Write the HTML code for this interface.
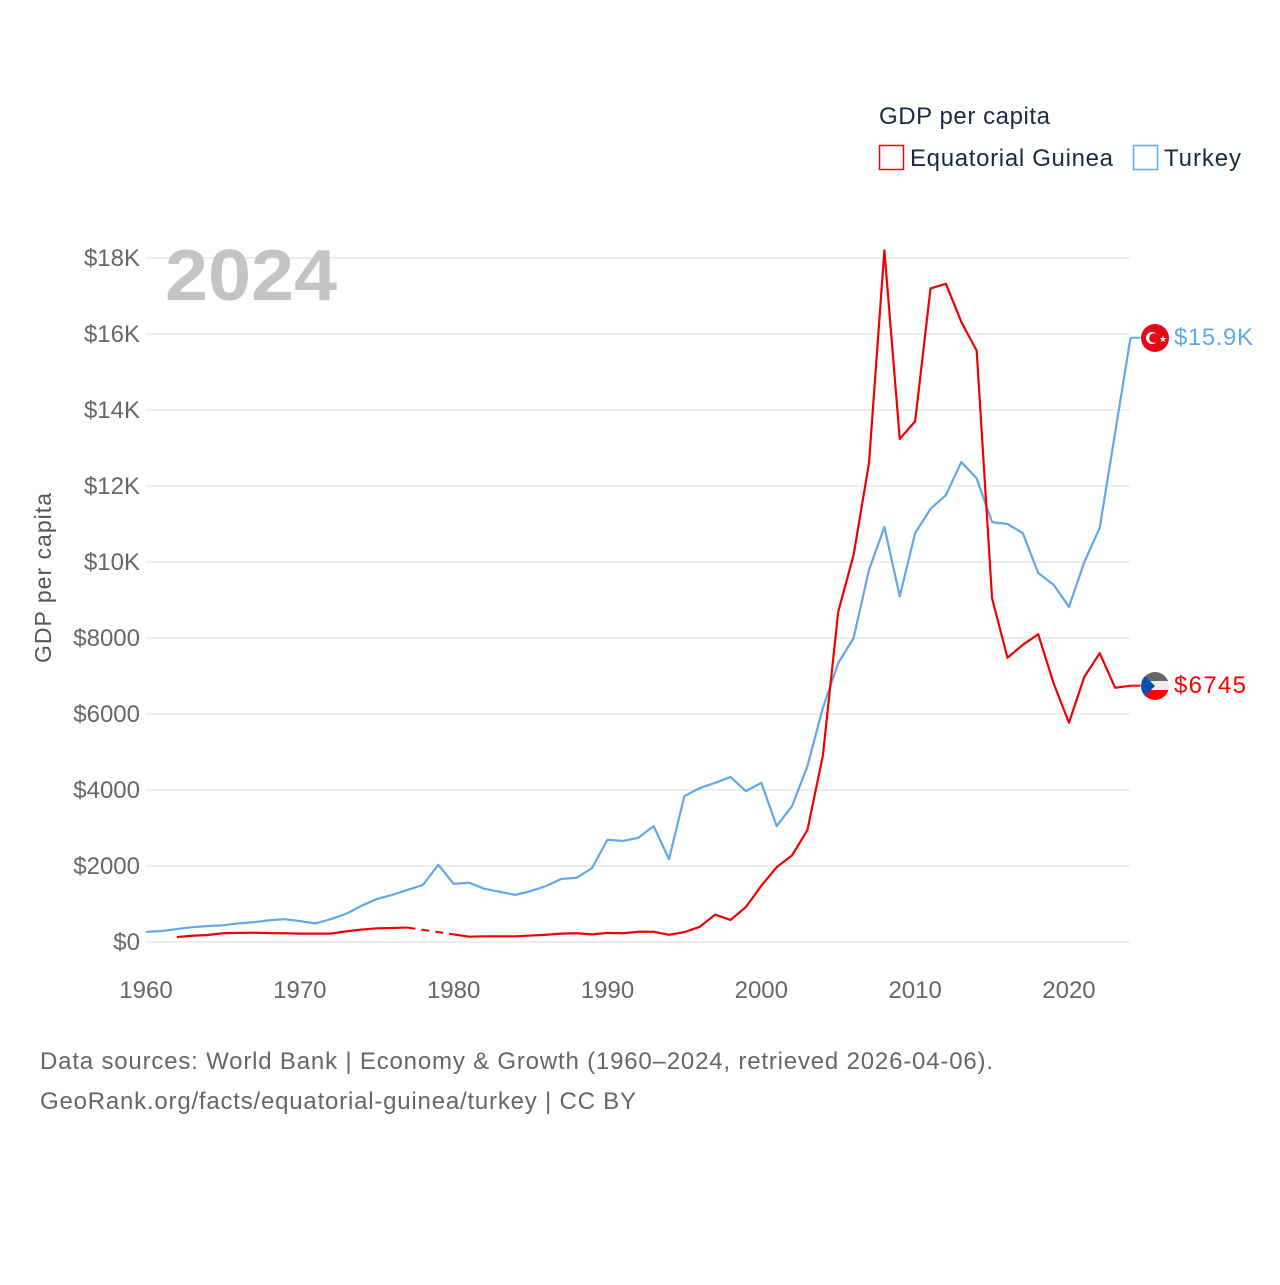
<!DOCTYPE html>
<html><head><meta charset="utf-8"><style>
body{margin:0;background:#fff;width:1280px;height:1280px;overflow:hidden;font-family:"Liberation Sans",sans-serif}
</style></head><body>
<svg width="1280" height="1280" xmlns="http://www.w3.org/2000/svg" style="font-family:'Liberation Sans',sans-serif">
<g id="grid"></g>
<g id="yticks"></g>
<g id="xticks"></g>
<text x="165" y="300" font-size="72" font-weight="bold" fill="#c4c4c4" textLength="172" lengthAdjust="spacingAndGlyphs">2024</text>
<text transform="translate(51,578) rotate(-90)" text-anchor="middle" font-size="23" fill="#555" textLength="170">GDP per capita</text>
<g id="series"></g>
<g>
<text x="879" y="124" font-size="24" fill="#1a2a44" textLength="171">GDP per capita</text>
<g><rect x="879.5" y="145.5" width="24" height="24" fill="none" stroke="#f00" stroke-width="1.5"/><text x="910" y="166" font-size="24" fill="#1a2a44" textLength="203">Equatorial Guinea</text></g>
<g><rect x="1133.5" y="145.5" width="24" height="24" fill="none" stroke="#5fa8ec" stroke-width="1.5"/><text x="1164" y="166" font-size="24" fill="#1a2a44" textLength="77">Turkey</text></g>
</g>
<g><circle cx="1155" cy="338" r="14" fill="#e30a17"/><circle cx="1152" cy="338" r="6" fill="#fff"/><circle cx="1154" cy="338" r="4.8" fill="#e30a17"/><text x="1159" y="342" font-size="9" fill="#fff">★</text></g>
<text x="1174" y="345" font-size="24" fill="#5fa8ec" textLength="79">$15.9K</text>
<g>
<clipPath id="cf"><circle cx="1155" cy="686" r="14"/></clipPath>
<g clip-path="url(#cf)"><rect x="1141" y="672" width="28" height="10" fill="#666"/><rect x="1141" y="681" width="28" height="10" fill="#eee"/><rect x="1141" y="690" width="28" height="10" fill="#f00"/><polygon points="1141,672 1155,686 1141,700" fill="#0c4fb0"/></g></g>
<text x="1174" y="693" font-size="24" fill="#f00" textLength="72">$6745</text>
<text x="40" y="1069" font-size="24" fill="#666" textLength="953">Data sources: World Bank | Economy &amp; Growth (1960–2024, retrieved 2026-04-06).</text>
<text x="40" y="1109" font-size="24" fill="#666" textLength="596">GeoRank.org/facts/equatorial-guinea/turkey | CC BY</text>
</svg>
<script>
const years=[];for(let y=1960;y<=2024;y++)years.push(y);
const yTicks=[0,2000,4000,6000,8000,10000,12000,14000,16000,18000];
const yTickLabels=["$0","$2000","$4000","$6000","$8000","$10K","$12K","$14K","$16K","$18K"];
const xTicks=[1960,1970,1980,1990,2000,2010,2020];
const turkey=[265,290,340,390,420,440,490,520,570,600,550,490,600,740,950,1130,1240,1370,1500,2030,1530,1560,1400,1320,1240,1340,1470,1660,1690,1950,2690,2660,2740,3050,2180,3840,4050,4190,4340,3970,4190,3050,3580,4630,6160,7340,8000,9790,10920,9100,10760,11400,11760,12630,12200,11050,11000,10760,9710,9400,8820,10000,10900,13400,15900];
const eqGuinea=[null,null,130,165,185,230,240,245,233,230,220,220,220,280,325,360,370,380,null,null,200,140,150,150,150,170,190,220,230,200,240,230,270,270,190,260,400,720,580,920,1480,1970,2280,2950,4900,8690,10190,12600,18200,13240,13700,17200,17320,16320,15560,9050,7480,7820,8100,6810,5770,6980,7600,6690,6745];
const NS="http://www.w3.org/2000/svg";
const X=y=>146+(y-1960)*(1130.5-146)/64;
const Y=v=>942-v*(942-258)/18000;
const grid=document.getElementById('grid'),yt=document.getElementById('yticks'),xt=document.getElementById('xticks'),ser=document.getElementById('series');
yTicks.forEach((v,i)=>{
 const l=document.createElementNS(NS,'line');
 
 
 l.setAttribute('x1',146);l.setAttribute('x2',1130);l.setAttribute('y1',Y(v));l.setAttribute('y2',Y(v));
 l.setAttribute('stroke','#e8e8e8');l.setAttribute('stroke-width','1.5');grid.appendChild(l);
 const t=document.createElementNS(NS,'text');
 
 
 t.setAttribute('x',140);t.setAttribute('y',Y(v)+8);t.setAttribute('text-anchor','end');t.setAttribute('font-size','24');t.setAttribute('fill','#666');
 t.textContent=yTickLabels[i];yt.appendChild(t);
});
xTicks.forEach(v=>{
 const t=document.createElementNS(NS,'text');
 
 
 t.setAttribute('x',X(v));t.setAttribute('y',998);t.setAttribute('text-anchor','middle');t.setAttribute('font-size','24');t.setAttribute('fill','#666');
 t.textContent=v;xt.appendChild(t);
});
function draw(vals,color,name){
 let segs=[],cur=[],prev=null;
 vals.forEach((v,i)=>{
  if(v==null){if(cur.length){segs.push(cur);prev=cur[cur.length-1];cur=[];}return;}
  const p=[X(years[i]),Y(v)];
  if(!cur.length&&prev){const d=document.createElementNS(NS,'path');
   
   
   d.setAttribute('d','M'+prev.join(',')+'L'+p.join(','));d.setAttribute('stroke',color);d.setAttribute('stroke-width','2');d.setAttribute('stroke-dasharray','8,6');d.setAttribute('fill','none');ser.appendChild(d);}
  cur.push(p);
 });
 if(cur.length)segs.push(cur);
 segs.forEach(s=>{const d=document.createElementNS(NS,'path');
  
  
  d.setAttribute('d','M'+s.map(p=>p.join(',')).join('L'));d.setAttribute('stroke',color);d.setAttribute('stroke-width','2.2');d.setAttribute('fill','none');d.setAttribute('stroke-linejoin','round');ser.appendChild(d);});
 const last=vals[vals.length-1];const c=document.createElementNS(NS,'path');
 
 
 c.setAttribute('d','M'+X(2024)+','+Y(last)+'h10');c.setAttribute('stroke',color);c.setAttribute('stroke-width','2');ser.appendChild(c);
}
draw(turkey,'#5fa8ec','turkey');
draw(eqGuinea,'#f00000','equatorial-guinea');
</script>
</body></html>
